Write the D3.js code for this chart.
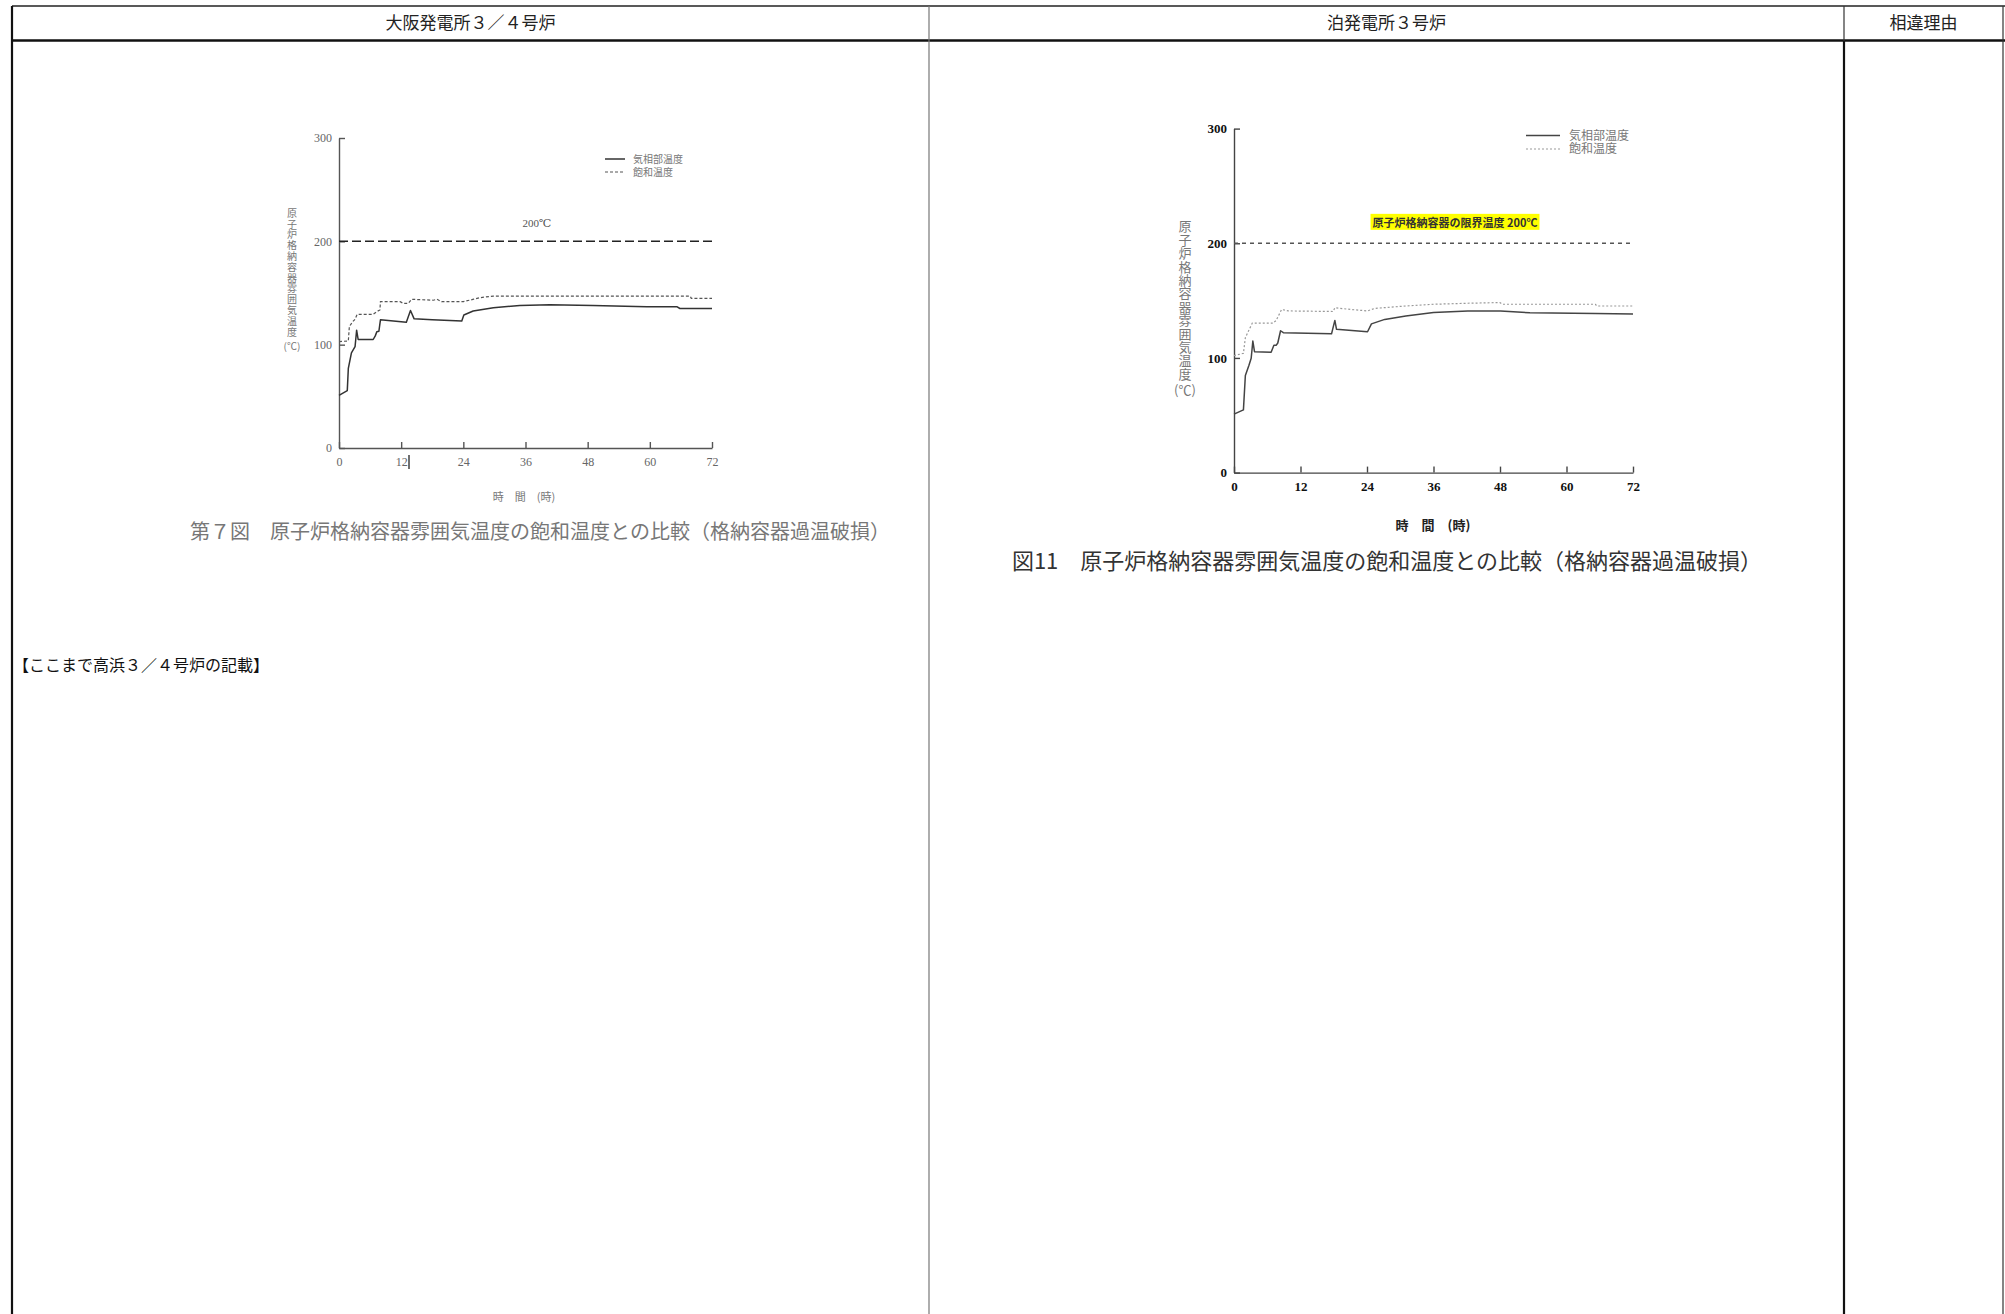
<!DOCTYPE html>
<html><head><meta charset="utf-8">
<script src="https://cdnjs.cloudflare.com/ajax/libs/d3/7.8.5/d3.min.js"></script>
<style>
html,body{margin:0;padding:0;background:#fff;}
svg{display:block;}
</style>
</head><body>
<svg id="c" width="2005" height="1314"></svg>
<script>
// ---------------- DATA ----------------
const headers = ["大阪発電所３／４号炉", "泊発電所３号炉", "相違理由"];
const xTicks = [0, 12, 24, 36, 48, 60, 72];
const yTicks = [0, 100, 200, 300];
const limitTemp = 200;
const legendLabels = ["気相部温度", "飽和温度"];
const yTitle = "原子炉格納容器雰囲気温度";
const yUnit = "(℃)";
const xTitle = "時　間　(時)";
const ohiLimitLabel = "200℃";
const tomariLimitLabel = "原子炉格納容器の限界温度 200℃";
const ohiCaption = "第７図　原子炉格納容器雰囲気温度の飽和温度との比較（格納容器過温破損）";
const tomariCaption = "図11　原子炉格納容器雰囲気温度の飽和温度との比較（格納容器過温破損）";
const note = "【ここまで高浜３／４号炉の記載】";

// Ohi 3/4 : gas-phase temperature [hour, degC]
const ohiGas = [[0,51],[1.6,55.5],[1.8,77],[2.4,92],[3.1,98],[3.4,114],[3.7,105],[6.6,105],[7.0,108.5],[7.3,112.5],[7.7,113],[8.0,124],[10.5,123],[13.0,121.7],[13.8,133],[14.5,125],[18,124],[23.7,123],[24.1,128.7],[25.9,132.6],[29.8,135.8],[34.9,138],[40.7,138.7],[49,138],[59.4,136.8],[65.2,136.8],[65.8,135],[72,135]];
// Ohi 3/4 : saturation temperature
const ohiSat = [[0,103],[1.8,103.6],[2.0,117.5],[2.6,122],[3.1,124.6],[3.5,129.4],[6.6,129.4],[7.3,132],[7.9,133.6],[8.0,141.6],[11.8,141.6],[12.4,140],[13.4,140],[14.0,143.9],[18.2,143],[18.9,144],[19.8,141.6],[24,141.6],[26,144],[27.2,145.5],[29.8,147],[67.8,147],[68,144.8],[72,144.8]];
// Tomari 3 : gas-phase temperature
const tomariGas = [[0,51],[1.7,54.7],[2.05,84.7],[2.7,93.7],[3.1,99.7],[3.4,114.7],[3.7,105.5],[6.7,105],[7.2,111],[7.6,111],[7.9,113],[8.4,123.7],[8.9,122],[17.6,121],[18.2,132.7],[18.5,125],[23.5,123],[24.1,122.8],[24.8,129.7],[27.2,133.6],[31,136.6],[36,139.6],[42.2,141],[48.1,141],[53.4,139.3],[65.2,138.7],[72,138.4]];
// Tomari 3 : saturation temperature
const tomariSat = [[0,102],[1.7,104],[2.05,117.7],[2.7,124.3],[3.3,130.3],[7.0,130.3],[7.6,132.7],[8.6,142.3],[9.8,141],[17.9,140.5],[18.2,143.8],[21,142.3],[24.1,141],[25.4,143.2],[31,145.3],[36,146.8],[42.2,147.7],[48,148.3],[48.4,146.8],[65.2,146.8],[65.5,145.3],[72,145.3]];

// ---------------- LAYOUT ----------------
const svg = d3.select("#c");
const CJK = "'Noto Sans CJK JP','Noto Sans',sans-serif";
const SERIF = "'Liberation Serif','DejaVu Serif',serif";

svg.append("rect").attr("width",2005).attr("height",1314).attr("fill","#fff");

// table
const colX = [12, 929, 1844, 2003];
const tbl = svg.append("g");
tbl.append("line").attr("x1",colX[0]).attr("x2",2005).attr("y1",6).attr("y2",6).attr("stroke","#222").attr("stroke-width",1.5);
tbl.append("line").attr("x1",colX[0]).attr("x2",2005).attr("y1",40.5).attr("y2",40.5).attr("stroke","#111").attr("stroke-width",2.5);
tbl.append("line").attr("x1",colX[0]).attr("x2",colX[0]).attr("y1",6).attr("y2",1314).attr("stroke","#111").attr("stroke-width",2.2);
tbl.append("line").attr("x1",colX[1]).attr("x2",colX[1]).attr("y1",6).attr("y2",1314).attr("stroke","#777").attr("stroke-width",1.2);
tbl.append("line").attr("x1",colX[2]).attr("x2",colX[2]).attr("y1",6).attr("y2",41).attr("stroke","#333").attr("stroke-width",1.2);
tbl.append("line").attr("x1",colX[2]).attr("x2",colX[2]).attr("y1",41).attr("y2",1314).attr("stroke","#111").attr("stroke-width",2.2);
tbl.append("line").attr("x1",colX[3]).attr("x2",colX[3]).attr("y1",6).attr("y2",1314).attr("stroke","#333").attr("stroke-width",1.2);

headers.forEach((h,i)=>{
  tbl.append("text").attr("x",(colX[i]+colX[i+1])/2).attr("y",23).attr("dy","0.35em")
    .attr("text-anchor","middle").attr("font-family",CJK).attr("font-size",17).attr("fill","#222").text(h);
});

// ---------------- CHART FUNCTION ----------------
function drawChart(opt){
  const g = svg.append("g");
  const x = d3.scaleLinear().domain([0,72]).range([opt.x0, opt.x1]);
  const y = d3.scaleLinear().domain([0,300]).range([opt.y0, opt.y1]);

  const xa = d3.axisBottom(x).tickValues(xTicks).tickSizeInner(-6).tickSizeOuter(0).tickPadding(opt.xPad);
  const ya = d3.axisLeft(y).tickValues(yTicks).tickSizeInner(-6).tickSizeOuter(0).tickPadding(opt.yPad);
  const gx = g.append("g").attr("transform",`translate(0,${opt.y0})`).call(xa);
  const gy = g.append("g").attr("transform",`translate(${opt.x0},0)`).call(ya);
  [gx,gy].forEach(a=>{
    a.selectAll("path,line").attr("stroke",opt.axisColor).attr("stroke-width",1.4);
    a.selectAll("text").attr("font-family",SERIF).attr("font-size",opt.tickFont)
      .attr("font-weight",opt.tickWeight).attr("fill",opt.tickColor);
  });

  // limit line
  g.append("line").attr("x1",x(0)).attr("x2",x(72)).attr("y1",y(limitTemp)).attr("y2",y(limitTemp))
    .attr("stroke",opt.limitColor).attr("stroke-width",1.5).attr("stroke-dasharray",opt.limitDash);

  const line = d3.line().x(d=>x(d[0])).y(d=>y(d[1]));
  g.append("path").datum(opt.sat).attr("d",line).attr("fill","none")
    .attr("stroke",opt.satColor).attr("stroke-width",opt.satWidth).attr("stroke-dasharray",opt.satDash);
  g.append("path").datum(opt.gas).attr("d",line).attr("fill","none")
    .attr("stroke",opt.gasColor).attr("stroke-width",1.5).attr("stroke-linejoin","round");

  // y title: vertical text
  const nChars = Array.from(yTitle).length;
  g.append("text").attr("x",opt.ytX).attr("y",opt.ytY0)
    .style("writing-mode","vertical-rl").style("text-orientation","upright")
    .style("letter-spacing",(opt.ytStep-opt.ytFont)+"px")
    .attr("font-family",CJK).attr("font-size",opt.ytFont)
    .attr("fill",opt.titleColor).text(yTitle);
  g.append("text").attr("x",opt.ytX).attr("y",opt.ytY0+nChars*opt.ytStep+opt.unitGap).attr("dy","0.35em")
    .attr("text-anchor","middle").attr("font-family",CJK).attr("font-size",opt.ytFont)
    .attr("fill",opt.titleColor).text(yUnit);

  // x title
  g.append("text").attr("x",opt.xtX).attr("y",opt.xtY).attr("dy","0.35em").attr("text-anchor","middle")
    .attr("font-family",CJK).attr("font-size",opt.xtFont).attr("font-weight",opt.xtWeight)
    .attr("fill",opt.xtColor).text(xTitle);

  // legend
  const lg = g.append("g");
  lg.append("line").attr("x1",opt.lgX0).attr("x2",opt.lgX1).attr("y1",opt.lgY).attr("y2",opt.lgY)
    .attr("stroke",opt.gasColor).attr("stroke-width",1.5);
  lg.append("line").attr("x1",opt.lgX0).attr("x2",opt.lgX1).attr("y1",opt.lgY+opt.lgStep).attr("y2",opt.lgY+opt.lgStep)
    .attr("stroke",opt.satColor).attr("stroke-width",opt.satWidth).attr("stroke-dasharray",opt.satDash);
  legendLabels.forEach((t,i)=>{
    lg.append("text").attr("x",opt.lgTX).attr("y",opt.lgY+i*opt.lgStep).attr("dy","0.35em")
      .attr("font-family",CJK).attr("font-size",opt.lgFont).attr("fill",opt.titleColor).text(t);
  });
  return {g,x,y};
}

// Ohi chart
const ohi = drawChart({
  x0:339, x1:712, y0:448, y1:138, xPad:9, yPad:7,
  axisColor:"#555", tickFont:12, tickWeight:"normal", tickColor:"#666",
  limitColor:"#222", limitDash:"9,4",
  gas:ohiGas, sat:ohiSat, gasColor:"#333", satColor:"#555", satWidth:1.2, satDash:"3,2",
  ytX:292, ytY0:208, ytStep:10.8, ytFont:10, unitGap:9, titleColor:"#777",
  xtX:524, xtY:497, xtFont:11, xtWeight:"normal", xtColor:"#777",
  lgX0:605, lgX1:625, lgY:159, lgStep:13, lgTX:633, lgFont:10
});
ohi.g.append("text").attr("x",537).attr("y",223).attr("dy","0.35em").attr("text-anchor","middle")
  .attr("font-family",SERIF).attr("font-size",11).attr("fill","#555").text(ohiLimitLabel);
// cursor mark next to the "12" label
ohi.g.append("line").attr("x1",409).attr("x2",409).attr("y1",455).attr("y2",469).attr("stroke","#222").attr("stroke-width",1.3);

// Tomari chart
const tom = drawChart({
  x0:1234, x1:1633, y0:472.6, y1:128.6, xPad:9, yPad:7,
  axisColor:"#444", tickFont:13, tickWeight:"bold", tickColor:"#111",
  limitColor:"#555", limitDash:"4,4",
  gas:tomariGas, sat:tomariSat, gasColor:"#444", satColor:"#999", satWidth:1.2, satDash:"2,2",
  ytX:1185, ytY0:220, ytStep:13.4, ytFont:13, unitGap:10, titleColor:"#777",
  xtX:1433, xtY:525, xtFont:13, xtWeight:"bold", xtColor:"#222",
  lgX0:1526, lgX1:1560, lgY:135.5, lgStep:13.5, lgTX:1569, lgFont:12
});
{
  const t = tom.g.append("text").attr("x",1455).attr("y",223).attr("dy","0.35em").attr("text-anchor","middle")
    .attr("font-family",CJK).attr("font-size",11).attr("font-weight","bold").attr("fill","#333").text(tomariLimitLabel);
  const bb = t.node().getBBox();
  tom.g.insert("rect", () => t.node()).attr("x",bb.x-2).attr("y",bb.y).attr("width",bb.width+4).attr("height",bb.height)
    .attr("fill","#ffff00");
}

// captions
svg.append("text").attr("x",540).attr("y",532).attr("dy","0.35em").attr("text-anchor","middle")
  .attr("font-family",CJK).attr("font-size",20).attr("fill","#777").text(ohiCaption);
svg.append("text").attr("x",1387).attr("y",561).attr("dy","0.35em").attr("text-anchor","middle")
  .attr("font-family",CJK).attr("font-size",22).attr("fill","#333").text(tomariCaption);
svg.append("text").attr("x",13).attr("y",665).attr("dy","0.35em")
  .attr("font-family",CJK).attr("font-size",16).attr("fill","#111").text(note);
</script>
</body></html>
